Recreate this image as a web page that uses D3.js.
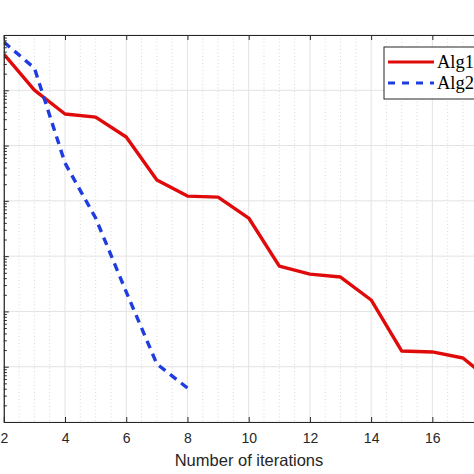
<!DOCTYPE html>
<html>
<head>
<meta charset="utf-8">
<script src="https://cdn.jsdelivr.net/npm/d3@7"></script>
<style>
html,body{margin:0;padding:0;background:#fff;}
svg{display:block;}
</style>
</head>
<body>
<svg id="chart" width="474" height="474"></svg>
<script>
const iterations1 = [2,3,4,5,6,7,8,9,10,11,12,13,14,15,16,17,18];
const alg1 = [0.452,0.101,0.0372,0.0327,0.0143,0.00238,0.00122,0.00117,4.89e-4,6.62e-5,4.74e-5,4.19e-5,1.61e-5,1.92e-6,1.85e-6,1.44e-6,5.07e-7];
const iterations2 = [2,3,4,5,6,7,8];
const alg2 = [0.745,0.252,4.83e-3,4.89e-4,2.25e-5,1.12e-6,4.12e-7];
const xTicks = [2,4,6,8,10,12,14,16];
const seriesNames = ["Alg1","Alg2"];
const xLabel = "Number of iterations";

(function(){
const svg = d3.select("#chart");
const pL = 3.8, pR = 554.8, pT = 35, pB = 422;
const x = d3.scaleLinear().domain([2,20]).range([pL,pR]);
const y = d3.scaleLog().domain([1e-7,1]).range([pB,pT]);

const clipId = "plotclip";
svg.append("defs").append("clipPath").attr("id",clipId)
  .append("rect").attr("x",pL).attr("y",pT).attr("width",pR-pL).attr("height",pB-pT);

// minor x grid (dotted)
const minorX = d3.range(2,18.01,0.5).filter(v => v % 2 !== 0);
svg.append("g").selectAll("line").data(minorX).join("line")
  .attr("x1",d=>x(d)).attr("x2",d=>x(d)).attr("y1",pT).attr("y2",pB)
  .attr("stroke","#d4d4d4").attr("stroke-width",0.9).attr("stroke-dasharray","1,2.5");

// major grid
svg.append("g").selectAll("line").data(xTicks).join("line")
  .attr("x1",d=>x(d)).attr("x2",d=>x(d)).attr("y1",pT).attr("y2",pB)
  .attr("stroke","#e3e3e3").attr("stroke-width",1);
const decades = d3.range(-7,1).map(e => Math.pow(10,e));
svg.append("g").selectAll("line").data(decades).join("line")
  .attr("x1",pL).attr("x2",pR).attr("y1",d=>y(d)).attr("y2",d=>y(d))
  .attr("stroke","#e3e3e3").attr("stroke-width",1);

// lines
const line = d3.line().x(d=>x(d[0])).y(d=>y(d[1]));
const plot = svg.append("g").attr("clip-path",`url(#${clipId})`);
plot.append("path").datum(iterations1.map((v,i)=>[v,alg1[i]]))
  .attr("d",line).attr("fill","none").attr("stroke","#e00a0a").attr("stroke-width",3.4)
  .attr("stroke-linejoin","round");
plot.append("path").datum(iterations2.map((v,i)=>[v,alg2[i]]))
  .attr("d",line).attr("fill","none").attr("stroke","#1e3ce0").attr("stroke-width",3.4)
  .attr("stroke-dasharray","8,6");

// axes
const axisColor = "#262626";
const xAxis = d3.axisBottom(x).tickValues(xTicks).tickSizeInner(-5).tickSizeOuter(0).tickPadding(11).tickFormat(d3.format("d"));
const gx = svg.append("g").attr("transform",`translate(0,${pB})`).call(xAxis);
gx.select(".domain").attr("stroke",axisColor).attr("stroke-width",1.2);
gx.selectAll(".tick line").attr("stroke",axisColor);
gx.selectAll(".tick text").attr("font-family","'Liberation Sans', Arial, sans-serif").attr("font-size",14).attr("fill","#262626");

const xTop = d3.axisTop(x).tickValues(xTicks).tickSizeInner(-5).tickSizeOuter(0).tickFormat("");
const gt = svg.append("g").attr("transform",`translate(0,${pT})`).call(xTop);
gt.select(".domain").attr("stroke",axisColor).attr("stroke-width",1.2);
gt.selectAll(".tick line").attr("stroke",axisColor);

// left axis with log minor ticks (labels lie off-canvas in the reference)
const yTickVals = [];
for (let e=-7;e<0;e++) for (let m=1;m<10;m++) yTickVals.push(m*Math.pow(10,e));
yTickVals.push(1);
const yAxis = d3.axisLeft(y).tickValues(yTickVals).tickSizeOuter(0).tickFormat("");
const gy = svg.append("g").attr("transform",`translate(${pL},0)`).call(yAxis);
gy.select(".domain").attr("stroke",axisColor).attr("stroke-width",1.2);
gy.selectAll(".tick line").attr("stroke",axisColor)
  .attr("x2",d => { const l = Math.log10(d); return Math.abs(l-Math.round(l))<1e-9 ? 5 : 3; });

// x label
svg.append("text").attr("x",249).attr("y",466).attr("text-anchor","middle")
  .attr("font-family","'Liberation Sans', Arial, sans-serif").attr("font-size",16.5).attr("fill","#262626")
  .text(xLabel);

// legend
const lg = svg.append("g");
lg.append("rect").attr("x",384).attr("y",47).attr("width",160).attr("height",52)
  .attr("fill","#fff").attr("stroke","#262626").attr("stroke-width",1);
const legendItems = [
  {name:seriesNames[0], color:"#e00a0a", dash:null, yy:62},
  {name:seriesNames[1], color:"#1e3ce0", dash:"7,7", yy:83}
];
legendItems.forEach(it => {
  const l = lg.append("line").attr("x1",388).attr("x2",434).attr("y1",it.yy).attr("y2",it.yy)
    .attr("stroke",it.color).attr("stroke-width",3.2);
  if (it.dash) l.attr("stroke-dasharray",it.dash);
  lg.append("text").attr("x",437).attr("y",it.yy+6).attr("font-family","'Liberation Serif', 'DejaVu Serif', serif")
    .attr("font-size",18.5).attr("fill","#000").text(it.name);
});
})();
</script>
</body>
</html>
